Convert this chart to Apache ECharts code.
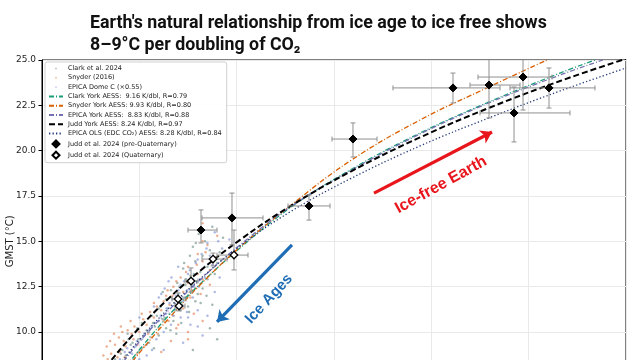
<!DOCTYPE html>
<html><head><meta charset="utf-8">
<script src="https://cdn.jsdelivr.net/npm/echarts@6/dist/echarts.min.js"></script>
<style>html,body{margin:0;padding:0;background:#fff}#c{width:640px;height:360px}</style>
</head><body><div id="c"></div>
<script>
// ---- axis ticks ----
const yMin = 5, yMax = 25, yStep = 2.5;
const xMin = 0, xMax = 1200, xStep = 200;

// ---- scatter clouds ----
const clarkDots = [[150,8.5],[172,8.7],[190,8.6],[165,9.0],[205,9.1],[182,9.3],[220,9.4],[198,9.6],[240,9.8],[176,9.9],[215,10.1],[232,10.3],[255,10.2],[205,10.5],[248,10.7],[270,10.6],[226,10.9],[262,11.0],[285,11.2],[240,11.3],[300,11.4],[272,11.6],[255,11.8],[292,11.9],[315,11.7],[280,12.1],[305,12.2],[265,12.3],[330,12.4],[295,12.6],[318,12.8],[278,12.7],[340,12.9],[305,13.1],[325,13.3],[355,13.2],[290,13.5],[340,13.6],[315,13.9],[360,13.8],[330,14.2],[345,14.5],[310,14.7],[365,14.4],[335,15.0],[322,15.4],[350,15.8],[372,15.2],[390,14.8],[300,12.0],[350,11.5],[370,10.8],[345,10.2],[360,9.6],[310,9.0],
  [228,10.5],[236,10.9],[244,11.4],[252,10.8],[258,11.3],[266,11.9],[274,11.2],[282,12.5],[288,11.5],[296,12.9],[302,11.1],[308,12.6],[312,13.2],[320,12.1],[326,11.6],[334,13.6],[338,12.0],[210,9.8],[196,10.2],[186,9.4],[162,8.8],[178,9.6],[220,10.0],[264,10.1],[286,10.5],[248,12.2],[292,13.8],[304,14.2],[316,14.9],[328,15.6],[198,8.9],[230,9.1],[276,9.9]];
const snyderDots = [[135,8.5],[155,8.6],[178,8.4],[160,8.9],[195,8.8],[150,9.3],[172,9.2],[210,9.2],[158,9.7],[188,9.6],[225,9.7],[165,10.0],[200,10.0],[240,10.2],[215,10.4],[182,10.6],[250,10.6],[230,10.8],[270,10.9],[205,11.0],[245,11.2],[290,11.3],[262,11.5],[230,11.6],[280,11.8],[305,11.9],[255,12.0],[290,12.2],[315,12.4],[270,12.5],[300,12.7],[330,12.9],[285,13.0],[320,13.2],[345,13.4],[300,13.6],[330,13.9],[355,14.1],[320,14.3],[340,14.8],[360,15.3],[330,16.0],[280,10.4],[300,10.0],[265,9.5],[330,10.6],[148,9.9],[140,9.5],[162,10.3],[245,8.9],
  [126,8.7],[133,9.2],[142,8.8],[168,9.5],[176,10.1],[190,10.3],[208,10.7],[222,11.1],[236,11.4],[250,11.7],[258,12.3],[268,12.0],[276,12.8],[284,11.5],[296,13.3],[308,12.3],[318,13.7],[326,12.1],[336,14.4],[312,11.0],[260,10.6],[238,9.9],[218,9.9],[196,9.3],[184,9.9],[170,8.6],[276,10.2],[300,9.6],[330,15.0],[345,12.6]];
const epicaDots = [[160,8.5],[185,8.8],[200,8.5],[175,9.1],[215,9.3],[195,9.5],[235,9.6],[210,9.9],[250,10.0],[225,10.3],[265,10.4],[240,10.6],[285,10.8],[255,11.0],[275,11.3],[298,11.1],[262,11.6],[290,11.7],[310,11.9],[275,12.0],[298,12.3],[322,12.5],[285,12.6],[310,12.9],[335,13.0],[300,13.2],[330,13.5],[350,13.7],[320,14.0],[345,14.2],[370,14.6],[340,14.9],[385,15.1],[355,15.5],[395,14.3],[320,11.2],[340,10.9],[305,10.4],[330,9.8],[290,9.4],[250,9.0],[215,8.7],[355,12.2],[365,13.0],[260,12.8],[245,12.1],[230,11.4],[200,10.8],
  [170,8.9],[192,9.2],[205,9.6],[220,10.1],[232,10.5],[244,10.9],[256,11.3],[268,11.8],[280,12.3],[292,12.8],[304,13.4],[316,13.8],[328,14.3],[338,14.6],[270,10.9],[284,11.3],[296,11.9],[312,12.5],[326,12.9],[240,11.9],[252,12.4],[266,13.0],[280,13.6],[354,14.1],[362,15.0],[320,10.3],[300,10.8],[188,8.5],[226,9.0]];

// ---- fitted curves ----
const clarkFit = [[160.3,7.68],[201.4,9.06],[263.0,10.99],[324.7,12.64],[406.9,14.63],[509.6,16.84],[632.9,18.93],[776.7,20.97],[920.6,22.71],[1064.4,24.28],[1136.3,25.0]];
const snyderFit = [[160.3,7.52],[201.4,8.89],[263.0,10.82],[324.7,12.59],[406.9,14.69],[509.6,16.95],[632.9,19.43],[776.7,21.69],[920.6,23.54],[1037.7,25.0]];
const epicaFit = [[129.5,7.07],[160.3,8.12],[201.4,9.50],[263.0,11.27],[324.7,12.87],[406.9,14.80],[509.6,16.89],[632.9,18.88],[776.7,20.92],[920.6,22.66],[1064.4,24.17],[1152.7,25.0]];
const juddFit = [[108.9,7.28],[145.9,8.56],[201.4,10.27],[263.0,11.92],[324.7,13.37],[406.9,15.08],[509.6,16.93],[632.9,18.83],[776.7,20.73],[920.6,22.38],[1064.4,23.84],[1200,25.07]];
const epicaOlsFit = [[129.5,7.18],[160.3,8.23],[201.4,9.61],[263.0,11.38],[324.7,12.92],[406.9,14.74],[509.6,16.62],[632.9,18.44],[776.7,20.26],[920.6,21.83],[1064.4,23.29],[1200,24.56]];

// ---- Judd et al. 2024 points: [x, y, xLow, xHigh, yLow, yHigh] ----
const preQuaternary = [
  [326.7,15.62,300.0,359.6,14.91,16.73],
  [390.4,16.29,328.8,454.1,14.80,17.66],
  [548.6,16.95,505.5,591.8,16.17,17.55],
  [639.0,20.64,595.9,688.4,19.65,21.53],
  [844.5,23.46,721.2,941.1,22.63,24.28],
  [918.5,23.62,879.5,982.2,21.80,25.4],
  [988.4,24.06,895.9,1047.9,22.24,25.4],
  [1041.8,23.46,961.6,1136.3,22.35,24.56],
  [969.9,22.08,900.0,1084.9,20.48,23.51]
];
const quaternary = [
  [279.5,11.82,267.1,295.9,11.49,12.15],
  [281.5,11.43,273.3,293.8,11.16,11.71],
  [306.2,12.81,293.8,320.5,12.20,13.53],
  [351.4,14.02,328.8,380.1,13.64,14.35],
  [394.5,14.24,359.6,423.3,13.42,15.62]
];

// ---- annotations ----
const redArrow = [[682.2,17.66],[924.7,21.03]];
const blueArrow = [[513.7,14.80],[359.6,10.55]];
const redLabel = [819.9,18.11,'Ice-free Earth'];
const blueLabel = [466.4,11.82,'Ice Ages'];

const names = [
  'Clark et al. 2024','Snyder (2016)','EPICA Dome C (×0.55)',
  'Clark York AESS:  9.16 K/dbl, R=0.79','Snyder York AESS: 9.93 K/dbl, R=0.80',
  'EPICA York AESS:  8.83 K/dbl, R=0.88','Judd York AESS: 8.24 K/dbl, R=0.97',
  'EPICA OLS (EDC CO₂) AESS: 8.28 K/dbl, R=0.84',
  'Judd et al. 2024 (pre-Quaternary)','Judd et al. 2024 (Quaternary)'
];

const dotIcon = 'path://M0,0M10,10M4,4h2v2h-2z';
const diamondIcon = 'path://M0,0M14,7M7,0L10.5,3.5L7,7L3.5,3.5Z';
const chart = echarts.init(document.getElementById('c'), null, {renderer:'canvas'});

function errRender(params, api){
  const x = api.value(0), y = api.value(1);
  const l = api.coord([api.value(2), y]), r = api.coord([api.value(3), y]);
  const b = api.coord([x, api.value(4)]), t = api.coord([x, api.value(5)]);
  const cap = 2.5;
  const st = {stroke:'#8f8f8f', lineWidth:1};
  const L = (x1,y1,x2,y2) => ({type:'line', shape:{x1,y1,x2,y2}, style:st});
  return {type:'group', children:[
    L(l[0],l[1],r[0],r[1]), L(b[0],b[1],t[0],t[1]),
    L(l[0],l[1]-cap,l[0],l[1]+cap), L(r[0],r[1]-cap,r[0],r[1]+cap),
    L(b[0]-cap,b[1],b[0]+cap,b[1]), L(t[0]-cap,t[1],t[0]+cap,t[1])
  ]};
}

function fitLine(name, data, color, type, width){
  return {type:'line', name, data, symbol:'none', smooth:0.4,
    lineStyle:{color, type, width}, itemStyle:{color}, z:3, clip:true};
}
function dots(name, data, color){
  return {type:'scatter', name, data, symbolSize:2.5, itemStyle:{color, opacity:0.72}, z:1, silent:true};
}
const hideSym = {opacity:0};

chart.setOption({
  animation:false,
  backgroundColor:'#fff',
  title:{
    text:"Earth's natural relationship from ice age to ice free shows\n8–9°C per doubling of CO₂",
    left:85, top:8,
    textStyle:{fontFamily:'Roboto', fontWeight:'bold', fontSize:17.8, lineHeight:22, color:'#111'}
  },
  grid:{left:42, top:60, width:584, height:362.6, show:true, borderColor:'#000', borderWidth:1,
    backgroundColor:'transparent', containLabel:false, outerBoundsMode:'none'},
  xAxis:{type:'value', min:xMin, max:xMax, interval:xStep,
    axisLine:{show:true, lineStyle:{color:'#000'}}, axisTick:{show:true}, axisLabel:{show:false},
    splitLine:{show:true, lineStyle:{color:'#e9e9e9', width:1}}},
  yAxis:{type:'value', min:yMin, max:yMax, interval:yStep,
    name:'GMST (°C)', nameLocation:'middle', nameGap:27, nameMoveOverlap:false,
    nameTextStyle:{fontFamily:'DejaVu Sans', fontSize:10, color:'#222'},
    axisLine:{show:true, lineStyle:{color:'#000'}},
    axisTick:{show:true, length:3.5, lineStyle:{color:'#000'}},
    axisLabel:{fontFamily:'DejaVu Sans', fontSize:9, color:'#222', margin:6, formatter:v=>v.toFixed(1)},
    splitLine:{show:true, lineStyle:{color:'#e9e9e9', width:1}}},
  legend:{
    orient:'vertical', left:45, top:62, selectedMode:false,
    itemWidth:14, itemHeight:7, itemGap:2.3,
    padding:[3,5,3,3],
    backgroundColor:'rgba(255,255,255,0.9)', borderColor:'#d0d0d0', borderWidth:1, borderRadius:2,
    textStyle:{fontFamily:'DejaVu Sans', fontSize:6.5, color:'#222'},
    data:[
      {name:names[0], icon:dotIcon},
      {name:names[1], icon:dotIcon},
      {name:names[2], icon:dotIcon},
      {name:names[3], itemStyle:hideSym},{name:names[4], itemStyle:hideSym},{name:names[5], itemStyle:hideSym},
      {name:names[6], itemStyle:hideSym},{name:names[7], itemStyle:hideSym},
      {name:names[8], icon:diamondIcon},
      {name:names[9], icon:diamondIcon}
    ]
  },
  series:[
    dots(names[0], clarkDots, '#7f9c95'),
    dots(names[1], snyderDots, '#e59066'),
    dots(names[2], epicaDots, '#8d9fd8'),
    fitLine(names[3], clarkFit, '#1b9e77', [5,2,1,2], 1.3),
    fitLine(names[4], snyderFit, '#d95f02', [5,2,1,2], 1.3),
    fitLine(names[5], epicaFit, '#7570b3', [5,2,1,2], 1.3),
    fitLine(names[6], juddFit, '#000000', [6,3], 2),
    fitLine(names[7], epicaOlsFit, '#263a78', [1.3,2.2], 1.3),
    {type:'custom', name:'errPre', renderItem:errRender, data:preQuaternary, encode:{x:0,y:1}, z:4, clip:true, silent:true},
    {type:'scatter', name:names[8], data:preQuaternary.map(d=>[d[0],d[1]]), symbol:'diamond', symbolSize:8,
      itemStyle:{color:'#000', borderColor:'#000', borderWidth:1, opacity:1}, z:6},
    {type:'custom', name:'errQ', renderItem:errRender, data:quaternary, encode:{x:0,y:1}, z:4, clip:true, silent:true},
    {type:'scatter', name:names[9], data:quaternary.map(d=>[d[0],d[1]]), symbol:'diamond', symbolSize:7.5,
      itemStyle:{color:'#fff', borderColor:'#000', borderWidth:1.3, opacity:1}, z:6},
    {type:'lines', coordinateSystem:'cartesian2d', z:7, silent:true,
      symbol:['none','arrow'], symbolSize:11,
      data:[
        {coords:redArrow, lineStyle:{color:'#e8161c', width:3.2, opacity:1}},
        {coords:blueArrow, lineStyle:{color:'#1f6db5', width:3.2, opacity:1}}
      ]},
    {type:'scatter', z:8, silent:true, symbolSize:1, itemStyle:{color:'rgba(0,0,0,0)', opacity:1},
      data:[
        {value:redLabel, label:{show:true, position:'inside', formatter:p=>p.value[2], rotate:29,
          fontFamily:'Liberation Sans', fontWeight:'bold', fontSize:16, color:'#e8161c', opacity:1}},
        {value:blueLabel, label:{show:true, position:'inside', formatter:p=>p.value[2], rotate:47,
          fontFamily:'Liberation Sans', fontWeight:'bold', fontSize:15, color:'#1f6db5', opacity:1}}
      ]}
  ]
});
</script></body></html>
